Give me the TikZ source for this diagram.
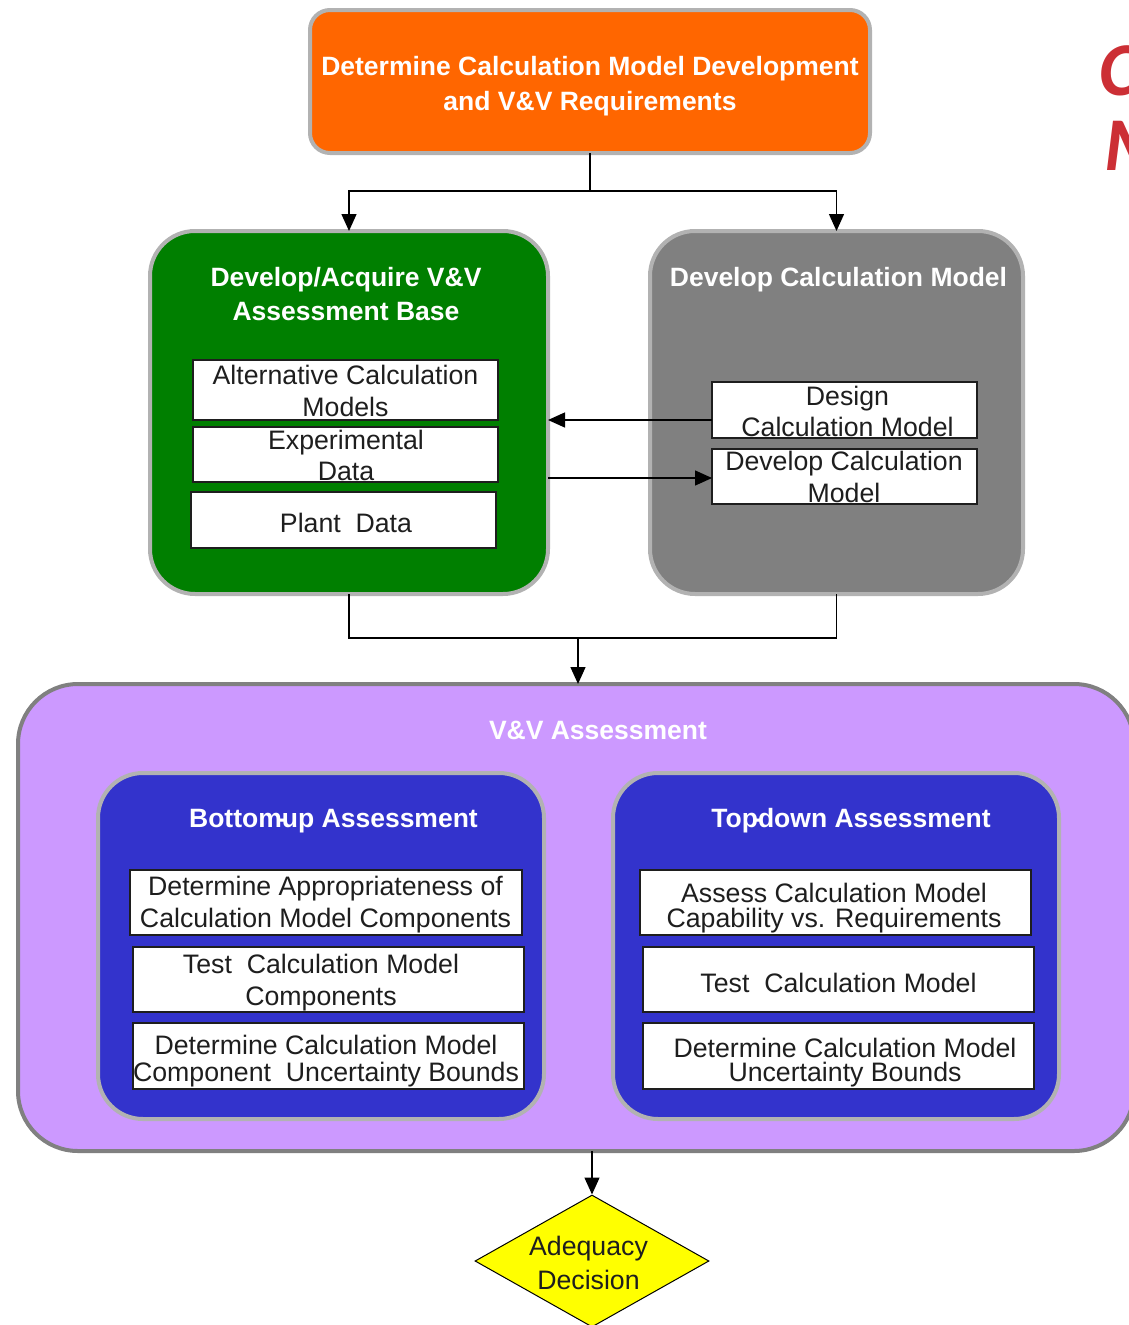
\documentclass[tikz,border=0pt]{standalone}
\usepackage{fontspec}
\setmainfont{Liberation Sans}
\newfontfamily\headfont{Carlito}
\usetikzlibrary{arrows.meta,shapes.geometric}

\definecolor{reqorange}{HTML}{FF6600}
\definecolor{basegreen}{HTML}{007F00}
\definecolor{modelgray}{HTML}{808080}
\definecolor{rimgray}{HTML}{B2B2B2}
\definecolor{vvlilac}{HTML}{CC99FF}
\definecolor{vvrim}{HTML}{808080}
\definecolor{assessblue}{HTML}{3333CC}
\definecolor{decideyellow}{HTML}{FFFF00}
\definecolor{headred}{HTML}{CC2F35}
\definecolor{ink}{HTML}{1E1E1E}

\newcommand{\headsize}{\fontsize{26.5}{34}\selectfont}

\begin{document}
\begin{tikzpicture}[x=1pt,y=-1pt,
  panel/.style={draw=rimgray, line width=4pt, outer sep=0pt, inner sep=0pt},
  taskbox/.style={draw=ink, fill=white, line width=1.2pt, outer sep=0pt, inner sep=0pt},
  headtext/.style={text=white, align=center, inner sep=0pt, text height=19pt, text depth=6pt},
  tasktext/.style={text=ink, align=center, inner sep=0pt, text height=19pt, text depth=6pt},
  link/.style={draw=black, line width=1.4pt},
  flow/.style={link, -{Triangle[length=17pt,width=15pt]}},
  redmark/.style={text=headred, anchor=base west, inner sep=0pt,
    font=\headfont\bfseries\itshape\fontsize{76}{80}\selectfont}]

\path[use as bounding box] (0,0) rectangle (1128,1325);

% title letters running off the right edge
\node[redmark] (capC) at (1099,95) {C};
\node[redmark] (capM) at (1104,170) {M};

% requirements box
\node[panel, fill=reqorange, rounded corners=20pt, minimum width=560pt, minimum height=143pt] (req) at (590,81.5) {};
\node[headtext, font=\bfseries\fontsize{26.5}{35}\selectfont] (reqtxt) at (590,103.5) {Determine Calculation Model Development\\and V\&V Requirements};

% assessment base
\node[panel, fill=basegreen, rounded corners=45pt, minimum width=398pt, minimum height=363pt] (base) at (349,412.5) {};
\node[headtext, font=\bfseries\headsize] (basetxt) at (346,313.5) {Develop/Acquire V\&V\\Assessment Base};
\node[taskbox, minimum width=305pt, minimum height=60pt] (alt) at (345.5,390) {};
\node[tasktext, font=\fontsize{26.7}{32}\selectfont] (alttxt) at (345.5,409.5) {Alternative Calculation\\Models};
\node[taskbox, minimum width=305pt, minimum height=55pt] (exp) at (345.5,454.5) {};
\node[tasktext, font=\fontsize{26.7}{31}\selectfont] (exptxt) at (346,473.5) {Experimental\\Data};
\node[taskbox, minimum width=305pt, minimum height=56pt] (plant) at (343.5,520) {};
\node[tasktext, font=\fontsize{26.7}{31}\selectfont] (planttxt) at (346,525.5) {Plant\ \ Data};

% calculation model
\node[panel, fill=modelgray, rounded corners=45pt, minimum width=373pt, minimum height=363pt] (model) at (836.5,412.5) {};
\node[headtext, font=\bfseries\headsize] (modeltxt) at (838.5,279.5) {Develop Calculation Model};
\node[taskbox, minimum width=265pt, minimum height=56pt] (design) at (844.5,410) {};
\node[tasktext, font=\fontsize{26.7}{31}\selectfont] (designtxt) at (847.5,429.5) {Design\\Calculation Model};
\node[taskbox, minimum width=265pt, minimum height=55pt] (develop) at (844.5,476.5) {};
\node[tasktext, font=\fontsize{26.7}{32}\selectfont] (developtxt) at (844,495.5) {Develop Calculation\\Model};

% V&V assessment
\node[panel, draw=vvrim, fill=vvlilac, rounded corners=60pt, minimum width=1116pt, minimum height=467pt] (vv) at (576,917.5) {};
\node[headtext, font=\bfseries\headsize] (vvtxt) at (598,732.5) {V\&V Assessment};

\node[panel, fill=assessblue, rounded corners=45pt, minimum width=446pt, minimum height=346pt] (bottom) at (321,946) {};
\node[headtext, font=\bfseries\headsize] (bottomtxt) at (333.5,820.5) {Bottom\kern-.2em-\kern-.13em up Assessment};
\node[taskbox, minimum width=392pt, minimum height=65pt] (bu1) at (326,902.5) {};
\node[tasktext, font=\fontsize{26.7}{32}\selectfont] (bu1txt) at (325.5,920.5) {Determine Appropriateness of\\Calculation Model Components};
\node[taskbox, minimum width=391pt, minimum height=65pt] (bu2) at (328.5,979.5) {};
\node[tasktext, font=\fontsize{26.7}{32}\selectfont] (bu2txt) at (321,998.5) {Test\ \ Calculation Model\\Components};
\node[taskbox, minimum width=391pt, minimum height=66pt] (bu3) at (328.5,1056) {};
\node[tasktext, font=\fontsize{26.7}{27}\selectfont] (bu3txt) at (326,1074.5) {Determine Calculation Model\\Component\ \ Uncertainty Bounds};

\node[panel, fill=assessblue, rounded corners=45pt, minimum width=446pt, minimum height=346pt] (top) at (836,946) {};
\node[headtext, font=\bfseries\headsize] (toptxt) at (851,820.5) {Top\kern-.2em-\kern-.13em down Assessment};
\node[taskbox, minimum width=391pt, minimum height=65pt] (td1) at (835.5,902.5) {};
\node[tasktext, font=\fontsize{26.7}{25}\selectfont] (td1txt) at (834,920.5) {Assess Calculation Model\\Capability vs. Requirements};
\node[taskbox, minimum width=391pt, minimum height=65pt] (td2) at (838.5,979.5) {};
\node[tasktext, font=\fontsize{26.7}{32}\selectfont] (td2txt) at (838.5,985.5) {Test\ \ Calculation Model};
\node[taskbox, minimum width=391pt, minimum height=66pt] (td3) at (838.5,1056) {};
\node[tasktext, font=\fontsize{26.7}{24}\selectfont] (td3txt) at (845,1074.5) {Determine Calculation Model\\Uncertainty Bounds};

% adequacy decision
\node[diamond, draw=black, fill=decideyellow, line width=1pt, inner sep=0pt, minimum width=234pt, minimum height=132pt] (decide) at (592,1261) {};
\node[tasktext, font=\fontsize{26.7}{34}\selectfont] (decidetxt) at (588.5,1282.5) {Adequacy\\Decision};

% connectors
\coordinate (split) at (590,191);
\draw[link] (req.south) -- (split);
\draw[flow] (split) -| (base.north);
\draw[flow] (split) -| (model.north);

\draw[flow] (design.west |- 0,420) -- (base.east |- 0,420);
\draw[flow] (base.east |- 0,478) -- (develop.west |- 0,478);

\coordinate (join) at (578,638);
\draw[link] (base.south) |- (join);
\draw[link] (model.south) |- (join);
\draw[flow] (join) -- (join |- vv.north);

\draw[flow] (decide.north |- vv.south) -- (decide.north);
\end{tikzpicture}
\end{document}
